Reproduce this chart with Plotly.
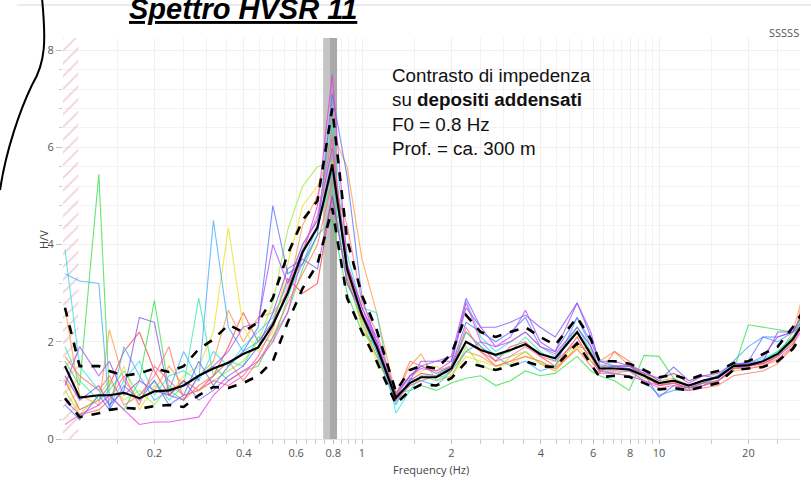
import plotly.graph_objects as go

# ---------------- data ----------------
FREQ = [0.100, 0.112, 0.130, 0.141, 0.158, 0.178, 0.200, 0.224, 0.251, 0.282,
        0.316, 0.355, 0.398, 0.447, 0.501, 0.562, 0.631, 0.708, 0.794, 0.891,
        1.00, 1.12, 1.30, 1.45, 1.58, 1.78, 2.00, 2.24, 2.51, 2.82,
        3.16, 3.55, 3.98, 4.47, 5.30, 5.90, 6.31, 7.08, 7.94, 8.91,
        10.0, 11.2, 12.6, 14.1, 15.8, 17.8, 20.0, 22.4, 25.1, 28.2,
        30.0]

HV_MEAN = [1.5, 0.85, 0.9, 0.9, 0.95, 0.84, 0.98, 1.0, 1.1, 1.3,
           1.45, 1.57, 1.75, 1.88, 2.35, 3.0, 3.85, 4.35, 5.65, 3.5,
           2.55, 1.9, 0.85, 1.15, 1.27, 1.27, 1.45, 2.0, 1.83, 1.73,
           1.83, 1.95, 1.75, 1.66, 2.2, 1.75, 1.45, 1.45, 1.43, 1.3,
           1.15, 1.2, 1.1, 1.2, 1.27, 1.5, 1.52, 1.6, 1.75, 2.05,
           2.3]

HV_UPPER = [2.7, 1.5, 1.5, 1.4, 1.3, 1.35, 1.45, 1.38, 1.5, 1.85,
            2.05, 2.35, 2.2, 2.4, 2.9, 3.8, 4.5, 4.9, 6.8, 4.1,
            2.95, 2.25, 0.98, 1.42, 1.5, 1.45, 1.75, 2.55, 2.2, 2.1,
            2.2, 2.3, 2.1, 1.93, 2.5, 2.05, 1.6, 1.6, 1.55, 1.42,
            1.27, 1.32, 1.22, 1.33, 1.4, 1.56, 1.6, 1.75, 1.9, 2.3,
            2.55]

HV_LOWER = [0.84, 0.45, 0.53, 0.6, 0.64, 0.62, 0.68, 0.7, 0.66, 0.9,
            1.07, 1.05, 1.15, 1.3, 1.6, 2.4, 3.1, 3.6, 4.75, 2.9,
            2.2, 1.6, 0.72, 1.0, 1.12, 1.1, 1.25, 1.58, 1.5, 1.42,
            1.5, 1.6, 1.5, 1.48, 1.97, 1.55, 1.27, 1.3, 1.28, 1.15,
            1.02, 1.05, 1.0, 1.08, 1.15, 1.42, 1.45, 1.48, 1.6, 1.85,
            2.1]

WIN_RED = [1.2, 0.6, 0.8, 1.1, 1.8, 2.2, 1.4, 0.9, 1.2, 1.0,
           1.3, 1.9, 2.6, 2.0, 2.4, 3.3, 3.0, 3.2, 5.0, 3.3,
           2.4, 1.7, 0.8, 1.2, 1.35, 1.3, 1.5, 2.2, 1.9, 1.6,
           1.9, 2.0, 1.7, 1.5, 2.1, 1.6, 1.4, 1.5, 1.5, 1.3,
           1.1, 1.15, 1.05, 1.15, 1.2, 1.45, 1.5, 1.55, 1.7, 2.0, 2.4]
WIN_ORANGE = [2.7, 0.9, 0.7, 2.25, 1.2, 0.8, 1.0, 1.5, 1.1, 1.3,
              1.6, 2.65, 2.0, 2.5, 2.6, 3.0, 4.4, 5.0, 6.3, 5.6,
              3.7, 2.6, 0.9, 1.5, 1.75, 1.2, 1.3, 1.8, 1.7, 1.5,
              1.6, 1.8, 1.55, 1.4, 1.9, 1.85, 1.6, 1.8, 1.5, 1.35,
              1.2, 1.25, 1.1, 1.15, 1.2, 1.4, 1.45, 1.5, 1.7, 2.2, 2.8]
WIN_YELLOW = [1.3, 0.5, 0.6, 0.8, 1.5, 0.6, 1.1, 0.9, 1.3, 1.5,
              2.2, 4.35, 2.3, 1.8, 2.2, 3.6, 4.8, 5.2, 6.0, 3.6,
              2.4, 1.6, 0.95, 1.3, 1.4, 1.5, 1.3, 1.7, 1.6, 1.5,
              1.55, 1.7, 1.6, 1.45, 1.9, 1.6, 1.5, 1.4, 1.55, 1.3,
              1.25, 1.35, 1.2, 1.3, 1.3, 1.4, 1.45, 1.52, 1.6, 1.85, 2.5]
WIN_LIME = [1.0, 0.5, 0.9, 1.2, 0.8, 1.0, 0.7, 1.1, 0.9, 1.0,
            1.2, 1.4, 1.6, 2.0, 2.8, 4.3, 5.2, 5.6, 5.7, 3.4,
            2.3, 1.7, 0.9, 1.1, 1.2, 1.3, 1.25, 1.9, 1.5, 1.4,
            1.7, 1.8, 1.55, 1.5, 2.0, 1.7, 1.4, 1.35, 1.4, 1.25,
            1.15, 1.2, 1.1, 1.2, 1.3, 1.5, 1.5, 1.6, 1.7, 2.0, 2.3]
WIN_GREEN = [1.6, 1.1, 5.45, 0.9, 0.6, 1.2, 2.85, 1.0, 0.8, 1.3,
             1.5, 1.2, 1.4, 1.5, 2.1, 2.6, 3.5, 4.2, 4.5, 3.0,
             2.2, 1.9, 0.95, 1.0, 1.1, 1.0, 1.15, 1.25, 1.3, 1.1,
             1.2, 1.4, 1.3, 1.35, 1.7, 1.4, 1.3, 1.2, 1.0, 1.72,
             1.7, 1.25, 1.05, 1.1, 1.2, 1.4, 2.35, 2.3, 2.25, 2.2, 2.5]
WIN_SPRING = [1.9, 1.2, 0.8, 1.0, 1.4, 0.9, 1.2, 0.8, 1.1, 2.9,
              1.3, 1.6, 1.5, 2.1, 2.0, 2.9, 3.8, 4.4, 5.3, 3.2,
              2.5, 1.8, 0.75, 1.15, 1.3, 1.2, 1.4, 2.2, 1.9, 1.7,
              1.8, 2.1, 1.8, 1.6, 2.3, 1.8, 1.45, 1.5, 1.4, 1.3,
              1.1, 1.2, 1.1, 1.2, 1.25, 1.5, 1.55, 1.6, 1.8, 2.1, 2.4]
WIN_CYAN = [3.9, 1.5, 1.0, 0.7, 1.2, 1.6, 0.9, 1.3, 1.4, 1.2,
            1.8, 1.5, 1.9, 2.2, 2.5, 3.2, 4.0, 4.5, 6.5, 3.8,
            2.7, 2.6, 0.53, 1.0, 1.3, 1.3, 1.5, 2.85, 2.1, 1.8,
            2.0, 2.2, 1.9, 1.7, 2.3, 1.9, 1.55, 1.45, 1.45, 1.3,
            1.15, 1.2, 1.1, 1.2, 1.3, 1.55, 1.55, 1.65, 1.8, 2.1, 2.4]
WIN_SKY = [3.4, 3.25, 3.2, 0.6, 1.9, 1.3, 0.8, 1.0, 1.8, 1.2,
           4.5, 2.3, 1.8, 2.0, 2.4, 3.0, 3.6, 4.4, 5.5, 3.5,
           2.5, 1.8, 0.7, 1.25, 1.2, 1.1, 1.4, 1.8, 2.0, 1.7,
           1.5, 1.6, 1.4, 1.5, 2.5, 1.9, 1.4, 1.35, 1.3, 1.2,
           0.9, 1.0, 1.0, 1.1, 1.3, 1.6, 1.9, 2.1, 2.0, 2.2, 2.4]
WIN_BLUE = [0.7, 0.4, 0.9, 0.6, 1.1, 0.8, 1.2, 0.7, 0.9, 1.6,
            1.1, 1.5, 1.8, 2.3, 4.8, 3.4, 3.6, 4.2, 7.1, 5.4,
            2.9, 2.0, 0.9, 1.3, 1.5, 1.35, 1.5, 2.4, 2.2, 2.0,
            2.2, 2.5, 1.9, 1.8, 2.5, 2.0, 1.6, 1.5, 1.5, 1.35,
            0.86, 1.1, 1.05, 1.15, 1.3, 1.5, 1.6, 2.1, 2.1, 2.2, 2.5]
WIN_INDIGO = [1.3, 0.8, 1.1, 0.7, 1.0, 2.5, 2.4, 0.9, 1.2, 0.8,
              1.0, 1.3, 1.5, 1.9, 2.6, 3.5, 3.7, 3.5, 5.0, 3.2,
              2.6, 2.0, 0.8, 1.2, 1.6, 1.6, 1.6, 2.7, 2.3, 2.3,
              2.4, 2.55, 2.3, 2.1, 2.8, 2.1, 1.6, 1.6, 1.5, 1.4,
              1.2, 1.48, 1.2, 1.3, 1.25, 1.5, 1.5, 1.6, 2.2, 2.2, 2.5]
WIN_PURPLE = [1.1, 1.9, 1.3, 1.6, 0.9, 1.2, 1.0, 0.9, 0.8, 1.3,
              1.5, 1.8, 2.3, 2.4, 4.0, 3.2, 4.0, 4.5, 6.0, 3.6,
              2.7, 2.1, 0.95, 1.3, 1.5, 1.6, 1.7, 2.9, 2.3, 1.9,
              2.1, 2.65, 2.0, 1.8, 2.8, 2.2, 1.5, 1.5, 1.45, 1.35,
              1.25, 1.35, 1.15, 1.3, 1.35, 1.55, 1.55, 1.7, 2.1, 2.2, 2.3]
WIN_MAGENTA = [0.8, 0.5, 0.7, 0.9, 0.6, 0.3, 0.35, 0.35, 0.4, 0.45,
               0.9, 1.2, 1.4, 1.6, 2.0, 2.6, 3.8, 4.8, 7.5, 3.6,
               2.7, 2.0, 0.85, 1.3, 1.45, 1.4, 1.6, 2.8, 2.0, 1.9,
               2.0, 2.2, 1.9, 1.75, 2.3, 1.9, 1.4, 1.4, 1.4, 1.2,
               1.1, 1.15, 1.05, 1.1, 1.2, 1.45, 1.5, 1.55, 1.7, 1.95, 2.2]
WIN_PINK = [0.3, 0.5, 0.6, 0.8, 1.3, 0.7, 1.5, 1.2, 0.9, 1.0,
            1.2, 1.1, 1.3, 1.7, 2.3, 3.1, 3.9, 4.6, 6.2, 3.4,
            2.5, 1.9, 0.8, 1.1, 1.2, 1.3, 1.4, 2.3, 1.8, 1.6,
            1.7, 1.9, 1.7, 1.6, 2.0, 1.7, 1.35, 1.35, 1.3, 1.2,
            1.05, 1.1, 1.0, 1.1, 1.2, 1.45, 1.45, 1.5, 1.65, 1.9, 2.3]
WIN_SALMON = [1.7, 1.3, 1.0, 1.3, 0.7, 0.9, 1.3, 1.9, 0.8, 1.1,
              1.3, 1.6, 1.2, 1.6, 2.1, 2.8, 3.4, 4.0, 5.3, 4.4,
              2.8, 2.2, 0.9, 1.6, 1.5, 1.4, 1.5, 2.0, 1.8, 1.5,
              1.6, 1.7, 1.6, 1.45, 1.85, 1.5, 1.35, 1.8, 1.6, 1.3,
              1.1, 1.15, 1.0, 1.05, 1.1, 1.3, 1.35, 1.4, 1.55, 1.9, 2.7]

WINDOWS = [
    (WIN_RED, "rgba(255,60,60,0.75)"),
    (WIN_ORANGE, "rgba(255,150,50,0.75)"),
    (WIN_YELLOW, "rgba(235,225,40,0.8)"),
    (WIN_LIME, "rgba(160,235,60,0.8)"),
    (WIN_GREEN, "rgba(60,225,80,0.8)"),
    (WIN_SPRING, "rgba(50,235,160,0.75)"),
    (WIN_CYAN, "rgba(40,225,225,0.75)"),
    (WIN_SKY, "rgba(60,170,255,0.75)"),
    (WIN_BLUE, "rgba(80,110,255,0.75)"),
    (WIN_INDIGO, "rgba(120,80,240,0.75)"),
    (WIN_PURPLE, "rgba(170,70,255,0.75)"),
    (WIN_MAGENTA, "rgba(235,50,235,0.75)"),
    (WIN_PINK, "rgba(255,90,170,0.75)"),
    (WIN_SALMON, "rgba(255,110,100,0.75)"),
]

X_TICKS = [0.2, 0.4, 0.6, 0.8, 1, 2, 4, 6, 8, 10, 20]
X_TICKTEXT = ["0.2", "0.4", "0.6", "0.8", "1", "2", "4", "6", "8", "10", "20"]
X_MINOR = [0.15, 0.25, 0.3, 0.35, 0.45, 0.5, 0.55, 0.65, 0.7, 0.75, 0.85, 0.9, 0.95,
           1.5, 2.5, 3, 3.5, 4.5, 5, 5.5, 6.5, 7, 7.5, 8.5, 9, 9.5, 15, 25, 30]

F0_BAND = (0.74, 0.824)
F0_DARK = (0.78, 0.824)
HATCH_F = (0.098, 0.111)
Y_MAX = 8.25

for arr, _ in WINDOWS:
    assert len(arr) == len(FREQ)
assert len(HV_MEAN) == len(FREQ) == len(HV_UPPER) == len(HV_LOWER)

fig = go.Figure()


def band(x0, x1, color):
    fig.add_trace(go.Scatter(
        x=[x0, x1, x1, x0, x0], y=[0, 0, Y_MAX, Y_MAX, 0], mode="lines",
        fill="toself", fillcolor=color, line=dict(width=0),
        hoverinfo="skip", showlegend=False))


# F0 band (drawn as filled traces so it covers the grid)
band(F0_BAND[0], F0_BAND[1], "#c4c4c4")
band(F0_DARK[0], F0_DARK[1], "#a9a9a9")

# hatched low-frequency region
fig.add_trace(go.Scatter(
    x=[HATCH_F[0], HATCH_F[1], HATCH_F[1], HATCH_F[0], HATCH_F[0]],
    y=[0, 0, Y_MAX, Y_MAX, 0], mode="lines", fill="toself",
    line=dict(width=0), fillcolor="rgba(0,0,0,0)",
    fillpattern=dict(shape="/", fgcolor="#eaa2b5", bgcolor="rgba(0,0,0,0)",
                     size=9, solidity=0.2),
    hoverinfo="skip", showlegend=False))

for arr, col in WINDOWS:
    fig.add_trace(go.Scatter(x=FREQ, y=arr, mode="lines",
                             line=dict(color=col, width=1.1),
                             showlegend=False))

fig.add_trace(go.Scatter(x=FREQ, y=HV_UPPER, mode="lines",
                         line=dict(color="black", width=2.6, dash="dash"), showlegend=False))
fig.add_trace(go.Scatter(x=FREQ, y=HV_LOWER, mode="lines",
                         line=dict(color="black", width=2.6, dash="dash"), showlegend=False))
fig.add_trace(go.Scatter(x=FREQ, y=HV_MEAN, mode="lines",
                         line=dict(color="black", width=2.2), showlegend=False))

# slide frame line and hand-drawn bracket
L, R, T, B = 63, 11, 38, 54
W, H = 811, 493
pw, ph = W - L - R, H - T - B


def px(xp):
    return (xp - L) / pw


def py(yp):
    return (H - B - yp) / ph


fig.add_shape(type="line", xref="paper", yref="paper", x0=px(17), x1=px(811),
              y0=py(5), y1=py(5), line=dict(color="#d8d8d8", width=1))
path = (f"M {px(42)},{py(-2)} C {px(46)},{py(40)} {px(46)},{py(62)} {px(32)},{py(85)} "
        f"C {px(20)},{py(110)} {px(6)},{py(150)} {px(0)},{py(190)}")
fig.add_shape(type="path", xref="paper", yref="paper", path=path,
              line=dict(color="black", width=2))

fig.update_layout(
    width=W, height=H,
    margin=dict(l=L, r=R, t=T, b=B),
    paper_bgcolor="white", plot_bgcolor="white",
    font=dict(family="Open Sans, sans-serif", color="#555555", size=11),
    showlegend=False,
    xaxis=dict(type="log", range=[-1.0067, 1.4747],
               tickmode="array", tickvals=X_TICKS, ticktext=X_TICKTEXT,
               ticks="outside", ticklen=4, tickcolor="#bdbdbd",
               showgrid=True, gridcolor="#f0f0f0", gridwidth=1,
               minor=dict(tickmode="array", tickvals=X_MINOR, ticks="outside",
                          ticklen=4, tickcolor="#cccccc",
                          showgrid=True, gridcolor="#f2f2f2", gridwidth=1),
               showline=True, linecolor="#e0e0e0", zeroline=False,
               tickfont=dict(size=11, color="#555555")),
    yaxis=dict(range=[0, Y_MAX], tick0=0, dtick=2,
               ticks="outside", ticklen=6, tickcolor="#bdbdbd",
               showgrid=True, gridcolor="#f0f0f0",
               minor=dict(dtick=0.4, tick0=0, ticks="outside", ticklen=3,
                          tickcolor="#cccccc", showgrid=True, gridcolor="#f3f3f3"),
               showline=False, zeroline=False,
               tickfont=dict(size=11, color="#555555")),
)

annos = [
    dict(text="<b><i><u>Spettro HVSR 11</u></i></b>", x=px(243), y=py(9),
         xanchor="center", yanchor="middle",
         font=dict(family="Liberation Sans, Arial", size=29, color="black")),
    dict(text="Contrasto di impedenza<br>su <b>depositi addensati</b><br>F0 = 0.8 Hz<br>Prof. = ca. 300 m",
         x=px(390), y=py(63), xanchor="left", yanchor="top", align="left",
         font=dict(family="Liberation Sans, Arial", size=18.8, color="#111111")),
    dict(text="SSSSS", x=px(801), y=py(32), xanchor="right", yanchor="middle",
         font=dict(size=11, color="#555555")),
    dict(text="H/V", x=px(44), y=py(240), xanchor="center", yanchor="middle",
         textangle=-90, font=dict(size=11, color="#444444")),
    dict(text="Frequency (Hz)", x=px(431), y=py(469), xanchor="center", yanchor="middle",
         font=dict(size=11, color="#444444")),
]
for a in annos:
    fig.add_annotation(xref="paper", yref="paper", showarrow=False, **a)

fig.write_html("out.html")
